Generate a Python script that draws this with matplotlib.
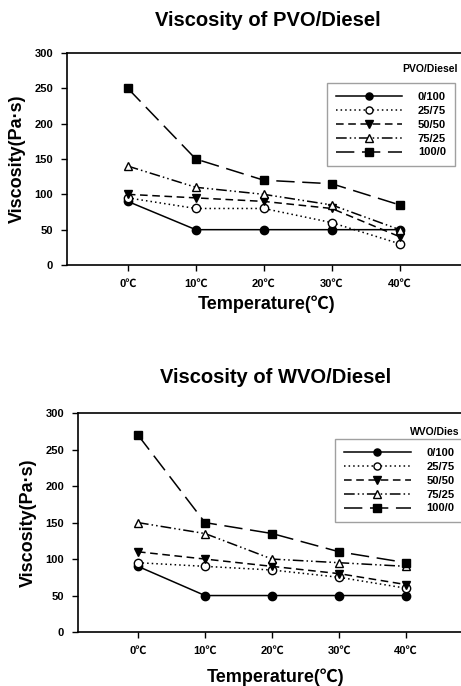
import matplotlib
matplotlib.use('Agg')
import matplotlib.pyplot as plt

plt.rcParams['font.family'] = ['Liberation Sans', 'Noto Sans CJK KR', 'DejaVu Sans']
plt.rcParams['font.weight'] = 'bold'

temps = [0, 10, 20, 30, 40]
temp_labels = ['0℃', '10℃', '20℃', '30℃', '40℃']
blends = ['0/100', '25/75', '50/50', '75/25', '100/0']

pvo_0_100 = [90, 50, 50, 50, 50]
pvo_25_75 = [95, 80, 80, 60, 30]
pvo_50_50 = [100, 95, 90, 80, 40]
pvo_75_25 = [140, 110, 100, 85, 50]
pvo_100_0 = [250, 150, 120, 115, 85]

wvo_0_100 = [90, 50, 50, 50, 50]
wvo_25_75 = [95, 90, 85, 75, 60]
wvo_50_50 = [110, 100, 90, 80, 65]
wvo_75_25 = [150, 135, 100, 95, 90]
wvo_100_0 = [270, 150, 135, 110, 95]

styles = [
    dict(ls='-', marker='o', mfc='black'),
    dict(ls=(0, (1, 2)), marker='o', mfc='white'),
    dict(ls=(0, (5, 3)), marker='v', mfc='black'),
    dict(ls=(0, (7, 2, 1, 2, 1, 2)), marker='^', mfc='white'),
    dict(ls=(0, (12, 5)), marker='s', mfc='black'),
]

fig = plt.figure(figsize=(4.61, 6.86), dpi=100)


def panel(rect, xlim, series, title, legend_title, leg_xy, title_xy, ltitle_xy, xlab_xy):
    ax = fig.add_axes(rect)
    for vals, lab, st in zip(series, blends, styles):
        ax.plot(temps, vals, color='black', lw=1.1, ls=st['ls'], marker=st['marker'],
                mfc=st['mfc'], mec='black', ms=6, label=lab)
    ax.set_xlim(*xlim)
    ax.set_ylim(0, 300)
    ax.set_yticks(range(0, 301, 50))
    ax.set_xticks(temps)
    ax.set_xticklabels(temp_labels)
    ax.tick_params(direction='out', length=4, width=1, labelsize=8, pad=6)
    ax.tick_params(axis='x', pad=6)
    for s in ax.spines.values():
        s.set_linewidth(1.2)
    ax.set_ylabel('Viscosity(Pa·s)', fontsize=13, fontweight='bold', labelpad=6)
    fig.text(title_xy[0], title_xy[1], title, ha='center', va='center',
             fontsize=14.5, fontweight='bold')
    fig.text(xlab_xy[0], xlab_xy[1], 'Temperature(℃)', ha='center', va='center',
             fontsize=13, fontweight='bold')
    leg = fig.legend(*ax.get_legend_handles_labels(), loc='upper left',
                     bbox_to_anchor=leg_xy, bbox_transform=fig.transFigure,
                     fontsize=8, handlelength=6, handletextpad=1.4,
                     labelspacing=0.35, borderaxespad=0, fancybox=False,
                     borderpad=0.8, markerscale=0.85)
    leg.get_frame().set_edgecolor('#888888')
    leg.get_frame().set_linewidth(1)
    fig.text(ltitle_xy[0], ltitle_xy[1], legend_title, ha='left', va='center',
             fontsize=7.5, fontweight='bold')
    return ax


panel([0.145, 0.6137, 0.896, 0.309], (-8.97, 51.8),
      [pvo_0_100, pvo_25_75, pvo_50_50, pvo_75_25, pvo_100_0],
      'Viscosity of PVO/Diesel', 'PVO/Diesel',
      (0.709, 0.879), (0.58, 0.970), (0.873, 0.899), (0.579, 0.557))

panel([0.169, 0.0787, 0.872, 0.319], (-8.96, 51.0),
      [wvo_0_100, wvo_25_75, wvo_50_50, wvo_75_25, wvo_100_0],
      'Viscosity of WVO/Diesel', 'WVO/Dies',
      (0.727, 0.360), (0.597, 0.449), (0.889, 0.370), (0.597, 0.013))

fig.savefig('out.png', dpi=100)
